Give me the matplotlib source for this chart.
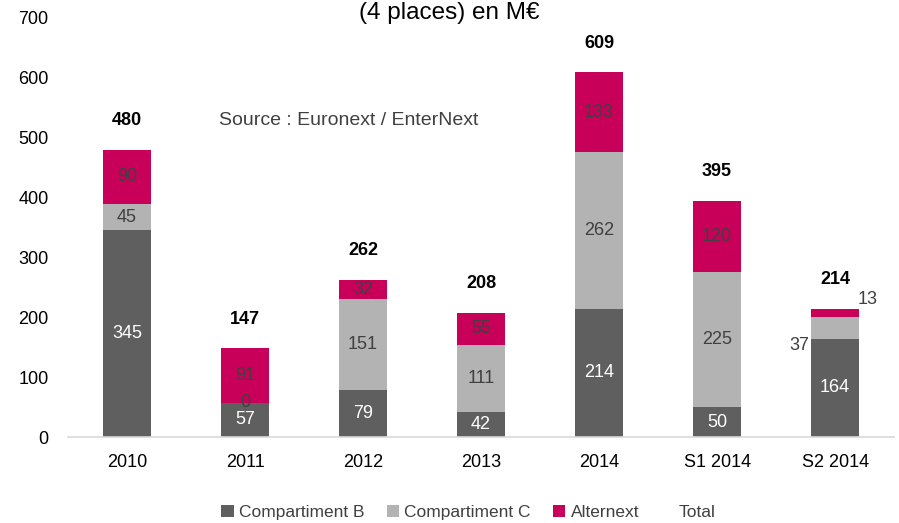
import matplotlib.pyplot as plt
import numpy as np

# data (M€)
periods = ["2010", "2011", "2012", "2013", "2014", "S1 2014", "S2 2014"]
comp_b = [345, 57, 79, 42, 214, 50, 164]
comp_c = [45, 0, 151, 111, 262, 225, 37]
alternext = [90, 91, 32, 55, 133, 120, 13]
totals = [480, 147, 262, 208, 609, 395, 214]

col_b = "#5f5f5f"
col_c = "#b3b3b3"
col_alt = "#c8005a"
txt_dark = "#404040"

plt.rcParams['font.family'] = ['Liberation Sans', 'DejaVu Sans']

fig = plt.figure(figsize=(8.99, 5.23), dpi=100)
ax = fig.add_axes([0.0756, 0.1644, 0.919, 0.8012])

x = np.arange(len(periods))
w = 0.41
b = np.array(comp_b)
c = np.array(comp_c)
a = np.array(alternext)

ax.bar(x, b, w, color=col_b, label="Compartiment B")
ax.bar(x, c, w, bottom=b, color=col_c, label="Compartiment C")
ax.bar(x, a, w, bottom=b + c, color=col_alt, label="Alternext")
# invisible total series, only there for the legend entry
ax.bar(x, np.zeros(len(x)), w, color="none", label="Total")

fs = 13
for i in range(len(x)):
    ax.text(x[i], b[i] / 2, str(b[i]), ha="center", va="center", color="white", fontsize=fs)
    if i == 6:
        # small segments: labels set beside the bar
        ax.text(x[i] - 0.22, b[i] + c[i] / 2 - 29, str(c[i]), ha="right", va="center", color=txt_dark, fontsize=fs)
        ax.text(x[i] + 0.19, b[i] + c[i] + a[i] + 16, str(a[i]), ha="left", va="center", color=txt_dark, fontsize=fs)
    else:
        ax.text(x[i], b[i] + c[i] / 2, str(c[i]), ha="center", va="center", color=txt_dark, fontsize=fs)
        ax.text(x[i], b[i] + c[i] + a[i] / 2, str(a[i]), ha="center", va="center", color=txt_dark, fontsize=fs)
    ax.text(x[i], totals[i] + 49, str(totals[i]), ha="center", va="center", color="black",
            fontsize=fs, fontweight="bold")

ax.text(0.78, 529, "Source : Euronext / EnterNext", ha="left", va="center", color=txt_dark, fontsize=14)

ax.set_xlim(-0.5, len(x) - 0.5)
ax.set_ylim(0, 700)
ax.set_yticks(range(0, 701, 100))
ax.set_xticks(x)
ax.set_xticklabels(periods)
ax.tick_params(length=0, labelsize=fs, pad=12)
ax.tick_params(axis="y", pad=14)
for s in ["top", "right", "left"]:
    ax.spines[s].set_visible(False)
ax.spines["bottom"].set_color("#d9d9d9")
ax.spines["bottom"].set_linewidth(1.2)

fig.text(0.5, 1 - 13 / 523, "(4 places) en M€", ha="center", va="center", fontsize=17.5)

leg = ax.legend(loc="upper center", bbox_to_anchor=(0.485, -0.125), ncol=4, frameon=False,
                fontsize=12.5, handlelength=0.7, handleheight=0.7, handletextpad=0.3, columnspacing=1.3)
for t in leg.get_texts():
    t.set_color(txt_dark)

fig.savefig("out.png", dpi=100)
